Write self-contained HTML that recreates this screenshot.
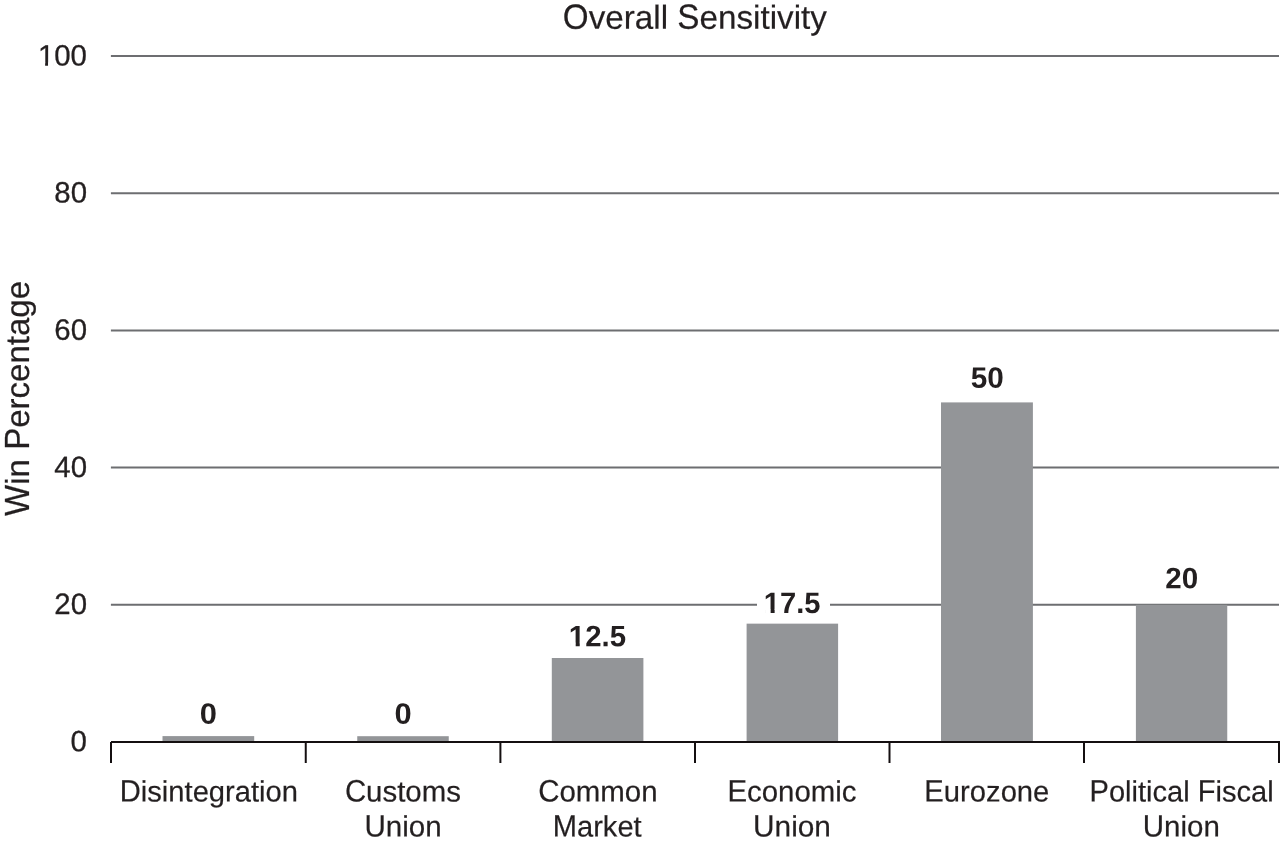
<!DOCTYPE html>
<html><head><meta charset="utf-8"><title>Overall Sensitivity</title>
<style>
html,body{margin:0;padding:0;background:#fff;}
body{width:1280px;height:843px;overflow:hidden;}
svg{display:block;font-family:"Liberation Sans",sans-serif;fill:#231f20;text-rendering:geometricPrecision;}
</style></head><body>
<svg width="1280" height="843" viewBox="0 0 1280 843">
<rect width="1280" height="843" fill="#fff"/>
<g opacity="0.999">
<line x1="110.9" y1="56.0" x2="1279" y2="56.0" stroke="#6d6e71" stroke-width="2"/>
<line x1="110.9" y1="193.2" x2="1279" y2="193.2" stroke="#6d6e71" stroke-width="2"/>
<line x1="110.9" y1="330.4" x2="1279" y2="330.4" stroke="#6d6e71" stroke-width="2"/>
<line x1="110.9" y1="467.6" x2="1279" y2="467.6" stroke="#6d6e71" stroke-width="2"/>
<line x1="110.9" y1="604.8" x2="1279" y2="604.8" stroke="#6d6e71" stroke-width="2"/>
<rect x="757" y="598" width="73" height="14" fill="#fff"/>
<rect x="162.5" y="736.1" width="91.70" height="5.90" fill="#939598"/>
<rect x="357.25" y="736.2" width="91.50" height="5.80" fill="#939598"/>
<rect x="551.8" y="658.0" width="91.60" height="84.00" fill="#939598"/>
<rect x="746.6" y="623.65" width="91.50" height="118.35" fill="#939598"/>
<rect x="941.0" y="402.4" width="91.90" height="339.60" fill="#939598"/>
<rect x="1135.9" y="604.8" width="91.35" height="137.20" fill="#939598"/>
<line x1="111" y1="742" x2="1280" y2="742" stroke="#140f10" stroke-width="2"/>
<line x1="111" y1="742" x2="111" y2="763" stroke="#140f10" stroke-width="2"/>
<line x1="305.75" y1="742" x2="305.75" y2="763" stroke="#140f10" stroke-width="2"/>
<line x1="500.4" y1="742" x2="500.4" y2="763" stroke="#140f10" stroke-width="2"/>
<line x1="695.0" y1="742" x2="695.0" y2="763" stroke="#140f10" stroke-width="2"/>
<line x1="889.5" y1="742" x2="889.5" y2="763" stroke="#140f10" stroke-width="2"/>
<line x1="1084.0" y1="742" x2="1084.0" y2="763" stroke="#140f10" stroke-width="2"/>
<line x1="1279.0" y1="742" x2="1279.0" y2="763" stroke="#140f10" stroke-width="2"/>
<g><text transform="translate(37.88,65.45) rotate(0.03) scale(1.0000,1.0000)" font-size="29.4" stroke="#231f20" stroke-width="0.3">100</text><g transform="translate(37.88,65.45) rotate(0.03) scale(1.0000,1.0000)" fill="#fff"><rect x="1.489" y="-2.946" width="5.754" height="3.696"/><rect x="10.141" y="-2.946" width="5.524" height="3.696"/></g></g>
<g><text transform="translate(54.34,202.61) rotate(0.03) scale(1.0000,1.0000)" font-size="29.4" stroke="#231f20" stroke-width="0.3">80</text></g>
<g><text transform="translate(54.34,339.77) rotate(0.03) scale(1.0000,1.0000)" font-size="29.4" stroke="#231f20" stroke-width="0.3">60</text></g>
<g><text transform="translate(54.34,476.93) rotate(0.03) scale(1.0000,1.0000)" font-size="29.4" stroke="#231f20" stroke-width="0.3">40</text></g>
<g><text transform="translate(54.34,614.09) rotate(0.03) scale(1.0000,1.0000)" font-size="29.4" stroke="#231f20" stroke-width="0.3">20</text></g>
<g><text transform="translate(70.51,751.25) rotate(0.03) scale(1.0000,1.0000)" font-size="29.4" stroke="#231f20" stroke-width="0.3">0</text></g>
<g><text transform="translate(562.84,28.75) rotate(0.03) scale(1.0010,1.0530)" font-size="33.2" stroke="#231f20" stroke-width="0.2">O</text><text transform="translate(588.69,28.75) rotate(0.03) scale(1.0010,1.0000)" font-size="33.2" stroke="#231f20" stroke-width="0.2">verall </text><text transform="translate(677.33,28.75) rotate(0.03) scale(1.0010,1.0530)" font-size="33.2" stroke="#231f20" stroke-width="0.2">S</text><text transform="translate(699.49,28.75) rotate(0.03) scale(1.0010,1.0000)" font-size="33.2" stroke="#231f20" stroke-width="0.2">ensitivity</text></g>
<g><text transform="translate(119.77,801.45) rotate(0.03) scale(0.9916,1.0530)" font-size="29.4" stroke="#231f20" stroke-width="0.2">D</text><text transform="translate(140.82,801.45) rotate(0.03) scale(0.9916,1.0000)" font-size="29.4" stroke="#231f20" stroke-width="0.2">isintegration</text></g>
<g><text transform="translate(344.88,801.45) rotate(0.03) scale(1.0006,1.0530)" font-size="29.4" stroke="#231f20" stroke-width="0.2">C</text><text transform="translate(366.12,801.45) rotate(0.03) scale(1.0006,1.0000)" font-size="29.4" stroke="#231f20" stroke-width="0.2">ustoms</text></g>
<g><text transform="translate(364.48,836.45) rotate(0.03) scale(1.0059,1.0530)" font-size="29.4" stroke="#231f20" stroke-width="0.2">U</text><text transform="translate(385.84,836.45) rotate(0.03) scale(1.0059,1.0000)" font-size="29.4" stroke="#231f20" stroke-width="0.2">nion</text></g>
<g><text transform="translate(538.13,801.45) rotate(0.03) scale(1.0018,1.0530)" font-size="29.4" stroke="#231f20" stroke-width="0.2">C</text><text transform="translate(559.39,801.45) rotate(0.03) scale(1.0018,1.0000)" font-size="29.4" stroke="#231f20" stroke-width="0.2">ommon</text></g>
<g><text transform="translate(552.77,836.45) rotate(0.03) scale(0.9895,1.0530)" font-size="29.4" stroke="#231f20" stroke-width="0.2">M</text><text transform="translate(577.00,836.45) rotate(0.03) scale(0.9895,1.0000)" font-size="29.4" stroke="#231f20" stroke-width="0.2">arket</text></g>
<g><text transform="translate(727.45,801.45) rotate(0.03) scale(0.9997,1.0530)" font-size="29.4" stroke="#231f20" stroke-width="0.2">E</text><text transform="translate(747.05,801.45) rotate(0.03) scale(0.9997,1.0000)" font-size="29.4" stroke="#231f20" stroke-width="0.2">conomic</text></g>
<g><text transform="translate(753.01,836.45) rotate(0.03) scale(1.0149,1.0530)" font-size="29.4" stroke="#231f20" stroke-width="0.2">U</text><text transform="translate(774.56,836.45) rotate(0.03) scale(1.0149,1.0000)" font-size="29.4" stroke="#231f20" stroke-width="0.2">nion</text></g>
<g><text transform="translate(924.36,801.45) rotate(0.03) scale(0.9934,1.0530)" font-size="29.4" stroke="#231f20" stroke-width="0.2">E</text><text transform="translate(943.84,801.45) rotate(0.03) scale(0.9934,1.0000)" font-size="29.4" stroke="#231f20" stroke-width="0.2">urozone</text></g>
<g><text transform="translate(1089.57,801.45) rotate(0.03) scale(0.9886,1.0530)" font-size="29.4" stroke="#231f20" stroke-width="0.2">P</text><text transform="translate(1108.96,801.45) rotate(0.03) scale(0.9886,1.0000)" font-size="29.4" stroke="#231f20" stroke-width="0.2">olitical </text><text transform="translate(1197.79,801.45) rotate(0.03) scale(0.9886,1.0530)" font-size="29.4" stroke="#231f20" stroke-width="0.2">F</text><text transform="translate(1215.55,801.45) rotate(0.03) scale(0.9886,1.0000)" font-size="29.4" stroke="#231f20" stroke-width="0.2">iscal</text></g>
<g><text transform="translate(1142.84,836.45) rotate(0.03) scale(1.0025,1.0530)" font-size="29.4" stroke="#231f20" stroke-width="0.2">U</text><text transform="translate(1164.12,836.45) rotate(0.03) scale(1.0025,1.0000)" font-size="29.4" stroke="#231f20" stroke-width="0.2">nion</text></g>
<g><text transform="translate(199.87,723.80) rotate(0.03) scale(1.0494,1.0050)" font-size="29.4" font-weight="bold">0</text></g>
<g><text transform="translate(394.47,723.80) rotate(0.03) scale(1.0494,1.0050)" font-size="29.4" font-weight="bold">0</text></g>
<g><text transform="translate(568.84,646.30) rotate(0.03) scale(0.9994,1.0050)" font-size="29.4" font-weight="bold">12.5</text><g transform="translate(568.84,646.30) rotate(0.03) scale(0.9994,1.0050)" fill="#fff"><rect x="1.252" y="-3.600" width="5.610" height="4.200"/><rect x="10.896" y="-3.600" width="5.237" height="4.200"/></g></g>
<g><text transform="translate(763.85,613.10) rotate(0.03) scale(0.9902,1.0050)" font-size="29.4" font-weight="bold">17.5</text><g transform="translate(763.85,613.10) rotate(0.03) scale(0.9902,1.0050)" fill="#fff"><rect x="1.252" y="-3.600" width="5.610" height="4.200"/><rect x="10.896" y="-3.600" width="5.237" height="4.200"/></g></g>
<g><text transform="translate(970.71,387.80) rotate(0.03) scale(1.0106,1.0050)" font-size="29.4" font-weight="bold">50</text></g>
<g><text transform="translate(1165.36,588.20) rotate(0.03) scale(1.0057,1.0050)" font-size="29.4" font-weight="bold">20</text></g>
<g><text transform="translate(29.10,515.93) rotate(-90) scale(0.9949,1.0530)" font-size="33.2" stroke="#231f20" stroke-width="0.2">W</text><text transform="translate(29.10,484.76) rotate(-90) scale(0.9949,1.0000)" font-size="33.2" stroke="#231f20" stroke-width="0.2">in </text><text transform="translate(29.10,449.87) rotate(-90) scale(0.9949,1.0530)" font-size="33.2" stroke="#231f20" stroke-width="0.2">P</text><text transform="translate(29.10,427.84) rotate(-90) scale(0.9949,1.0000)" font-size="33.2" stroke="#231f20" stroke-width="0.2">ercentage</text></g>
</g>
</svg>
</body></html>
